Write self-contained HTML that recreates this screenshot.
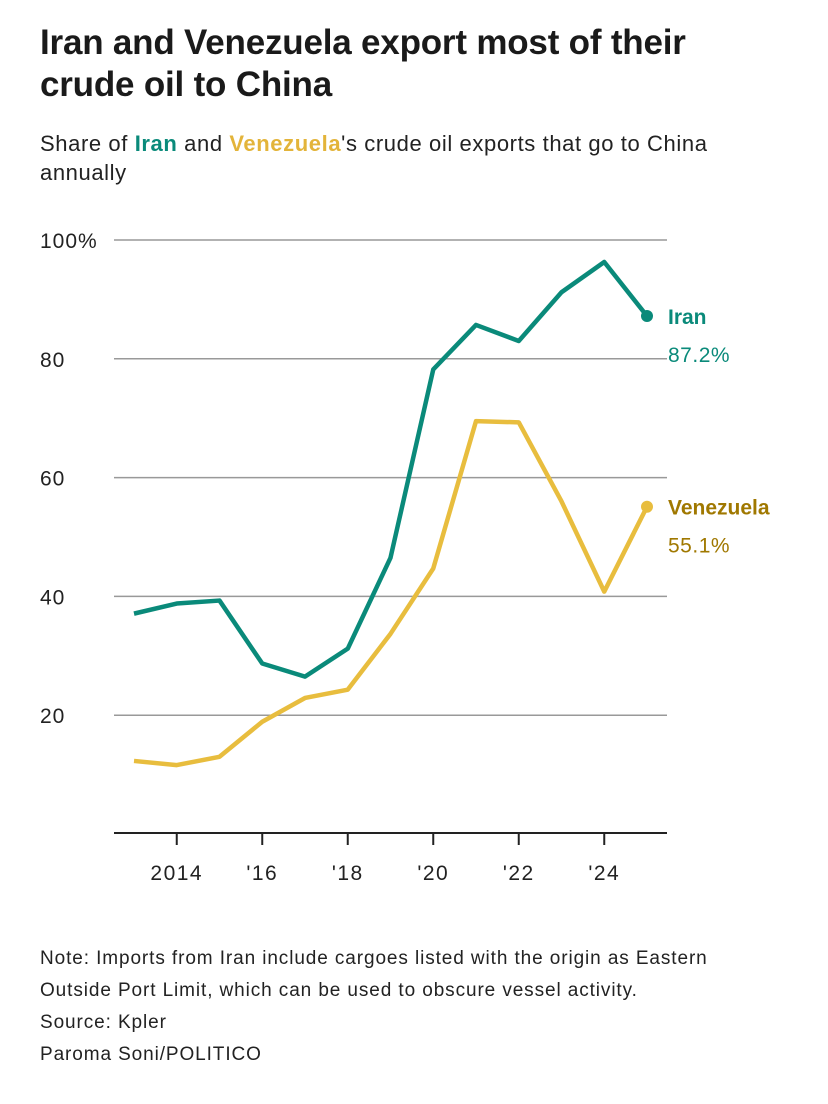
<!DOCTYPE html>
<html><head><meta charset="utf-8"><style>
body{margin:0;background:#fff;width:828px;height:1104px;overflow:hidden;font-family:"Liberation Sans",sans-serif;color:#222}
h1{position:absolute;left:40px;top:22px;margin:0;font-size:35px;line-height:42px;font-weight:bold;color:#1a1a1a;letter-spacing:-0.2px}
.sub{position:absolute;left:40px;top:129px;font-size:22px;line-height:29px;color:#222;letter-spacing:0.6px;white-space:nowrap}
.note{position:absolute;left:40px;top:943px;font-size:19px;line-height:32px;color:#222;letter-spacing:0.9px;white-space:nowrap}
</style></head><body>
<h1>Iran and Venezuela export most of their<br>crude oil to China</h1>
<div class="sub">Share of <b style="color:#0a8a7a">Iran</b> and <b style="color:#e3b43a">Venezuela</b>'s crude oil exports that go to China<br>annually</div>
<svg id="chart" width="828" height="1104" style="position:absolute;left:0;top:0"></svg>
<div class="note">Note: Imports from Iran include cargoes listed with the origin as Eastern<br>Outside Port Limit, which can be used to obscure vessel activity.<br>Source: Kpler<br>Paroma Soni/POLITICO</div>
<script>
const years=[2013,2014,2015,2016,2017,2018,2019,2020,2021,2022,2023,2024,2025];
const iran=[37.1,38.8,39.3,28.7,26.5,31.2,46.5,78.2,85.7,83.0,91.2,96.3,87.2];
const venezuela=[12.3,11.6,13.0,18.9,22.9,24.3,33.7,44.7,69.5,69.3,56.0,40.8,55.1];
const yTicks=[20,40,60,80,100];
const yTickLabels=["20","40","60","80","100%"];
const xTicks=[2014,2016,2018,2020,2022,2024];
const xTickLabels=["2014","'16","'18","'20","'22","'24"];
const NS="http://www.w3.org/2000/svg";
const svg=document.getElementById('chart');
const x=v=>134+(v-2013)*42.75;
const y=v=>834-v*5.94;
function el(t,a,p){const e=document.createElementNS(NS,t);for(const k in a)e.setAttribute(k,a[k]);(p||svg).appendChild(e);return e;}
yTicks.forEach((t,i)=>{
 const g=el('line',{x1:114,x2:667,y1:y(t),y2:y(t),stroke:'#999','stroke-width':1.5});
 
 
 const tx=el('text',{x:40,y:y(t)+8,'font-size':21,fill:'#222','font-family':'Liberation Sans','letter-spacing':1});
 tx.textContent=yTickLabels[i];
 
 
});
const ax=el('line',{x1:114,x2:667,y1:833,y2:833,stroke:'#222','stroke-width':2});


xTicks.forEach((t,i)=>{
 const tk=el('line',{x1:x(t),x2:x(t),y1:833,y2:845,stroke:'#222','stroke-width':2});
 
 
 const tx=el('text',{x:x(t),y:880,'font-size':21,fill:'#222','text-anchor':'middle','font-family':'Liberation Sans','letter-spacing':1.5});
 tx.textContent=xTickLabels[i];
 
 
});
function series(vals,color,name,label,labelColor){
 const p=el('polyline',{points:vals.map((v,i)=>x(years[i])+','+y(v)).join(' '),fill:'none',stroke:color,'stroke-width':4.5,'stroke-linejoin':'round'});
 
 
 const last=vals[vals.length-1],lx=x(years[years.length-1]);
 const c=el('circle',{cx:lx,cy:y(last),r:6,fill:color});
 
 
 const t1=el('text',{x:lx+21,y:y(last)+8,'font-size':21,'font-weight':'bold',fill:labelColor,'font-family':'Liberation Sans'});
 t1.textContent=label;
 
 
 const t2=el('text',{x:lx+21,y:y(last)+46,'font-size':21,fill:labelColor,'font-family':'Liberation Sans','letter-spacing':0.5});
 t2.textContent=last.toFixed(1)+'%';
 
 
}
series(venezuela,'#e8bd3e','venezuela','Venezuela','#a07800');
series(iran,'#0a8a7a','iran','Iran','#0a8a7a');
</script>
</body></html>
